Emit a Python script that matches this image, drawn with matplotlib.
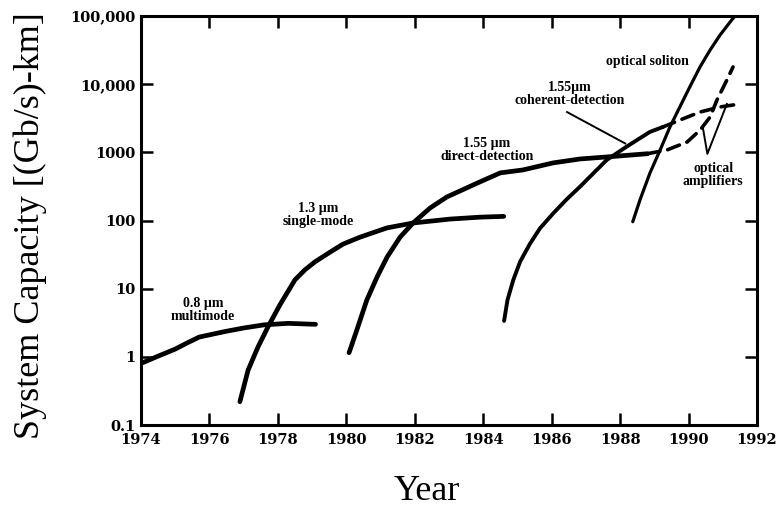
# %% Kapazitaet optischer Nachrichtensysteme (Bitrate x Distanz) ueber die Jahre

import matplotlib
matplotlib.use('Agg')
import matplotlib.pyplot as plt

# %% Daten

mm_years = [1974.0, 1974.45, 1975.0, 1975.35, 1975.7, 1976.45, 1977.0, 1977.6, 1978.3, 1979.1]
mm_cap = [0.8, 1.0, 1.3, 1.6, 1.95, 2.35, 2.65, 2.95, 3.1, 3.0]

sm_years = [1976.89, 1977.13, 1977.42, 1977.71, 1978.06, 1978.5, 1978.79, 1979.08,
            1979.47, 1979.9, 1980.4, 1981.19, 1981.95, 1983.03, 1983.9, 1984.6]
sm_cap = [0.22, 0.64, 1.4, 2.75, 5.8, 13.5, 18.9, 24.7, 33, 45, 57, 78, 92, 105, 112, 115]

dd_years = [1980.08, 1980.31, 1980.6, 1980.9, 1981.19, 1981.57, 1981.95, 1982.45,
            1982.94, 1983.9, 1984.5, 1985.16, 1986.04, 1986.83, 1987.62, 1988.8]
dd_cap = [1.15, 2.5, 6.85, 14.9, 29, 57, 92, 153, 222, 368, 500, 552, 700, 800, 857, 955]

dd_amp_years = [1988.8, 1989.37, 1989.96, 1990.34, 1990.63, 1990.83, 1991.12, 1991.3]
dd_amp_cap = [955, 1084, 1420, 2130, 3300, 5860, 11500, 17900]

coh_years = [1984.61, 1984.71, 1984.88, 1985.08, 1985.37, 1985.66, 1986.05, 1986.44,
             1986.83, 1987.22, 1987.61, 1988.19, 1988.87, 1989.25]
coh_cap = [3.37, 6.85, 13.5, 25, 46, 77, 128, 205, 314, 494, 774, 1213, 1995, 2355]

coh_amp_years = [1989.25, 1989.75, 1990.34, 1990.92, 1991.5]
coh_amp_cap = [2355, 2985, 3910, 4630, 5130]

sol_years = [1988.37, 1988.58, 1988.87, 1989.17, 1989.46, 1989.75, 1990.04, 1990.34,
             1990.63, 1990.92, 1991.26, 1991.36]
sol_cap = [96, 200, 494, 1084, 2380, 4680, 9190, 18100, 31700, 52600, 87400, 100000]

x_ticks = list(range(1974, 1993, 2))
y_ticks = [0.1, 1, 10, 100, 1000, 10000, 100000]
y_labels = ['0.1', '1', '10', '100', '1000', '10,000', '100,000']

# %% Plot

fig = plt.figure('Kapazitaet', figsize=(7.76, 5.12), dpi=100)
ax = fig.add_axes([0.1817, 0.1699, 0.7938, 0.7988])

kw = dict(color='black', solid_capstyle='round', solid_joinstyle='round',
          dash_capstyle='round')
ax.plot(mm_years, mm_cap, lw=3.4, **kw)
ax.plot(sm_years, sm_cap, lw=3.4, **kw)
ax.plot(dd_years, dd_cap, lw=3.4, **kw)
ax.plot(dd_amp_years, dd_amp_cap, lw=2.6, ls=(0, (3.5, 2.2)), **kw)
ax.plot(coh_years, coh_cap, lw=2.8, **kw)
ax.plot(coh_amp_years, coh_amp_cap, lw=2.6, ls=(0, (3.5, 2.2)), **kw)
ax.plot(sol_years, sol_cap, lw=2.3, **kw)

# Hinweislinien
ax.plot([1986.45, 1988.15], [3900, 1350], color='black', lw=1.4)
ax.plot([1990.42, 1990.55, 1991.12], [2280, 950, 5130], color='black', lw=1.4)

# Beschriftungen
lab = dict(family='Liberation Serif', weight='bold', fontsize=10,
           ha='center', va='center', linespacing=1.0)
ax.text(1975.81, 4.9, '0.8 µm\nmultimode', **lab)
ax.text(1979.17, 121, '1.3 µm\nsingle-mode', **lab)
ax.text(1984.11, 1084, '1.55 µm\ndirect-detection', **lab)
ax.text(1986.54, 7180, '1.55µm\ncoherent-detection', **lab)
ax.text(1988.79, 21200, 'optical soliton', **lab)
ax.text(1990.72, 467, 'optical\namplifiers', **lab)

ax.set_yscale('log')
ax.set_xlim(1974, 1992)
ax.set_ylim(0.1, 100000)
ax.set_xticks(x_ticks)
ax.set_yticks(y_ticks)
ax.set_yticklabels(y_labels)
ax.minorticks_off()
ax.tick_params(which='major', direction='in', length=8.5, width=1.8,
               top=True, right=True, labelsize=10.5)
ax.tick_params(axis='y', pad=4)
ax.tick_params(axis='x', pad=6)
for t in ax.get_xticklabels() + ax.get_yticklabels():
    t.set_family('DejaVu Serif')
    t.set_weight('bold')
for s in ax.spines.values():
    s.set_linewidth(2.2)

fig.text(427/776, 1 - 492/512, 'Year', family='Liberation Serif', fontsize=26,
         ha='center', va='center')
fig.text(30/776, 1 - 226/512, 'System Capacity [(Gb/s)-km]', family='Liberation Serif',
         fontsize=26, rotation=90, ha='center', va='center')

fig.savefig('out.png', dpi=100)
